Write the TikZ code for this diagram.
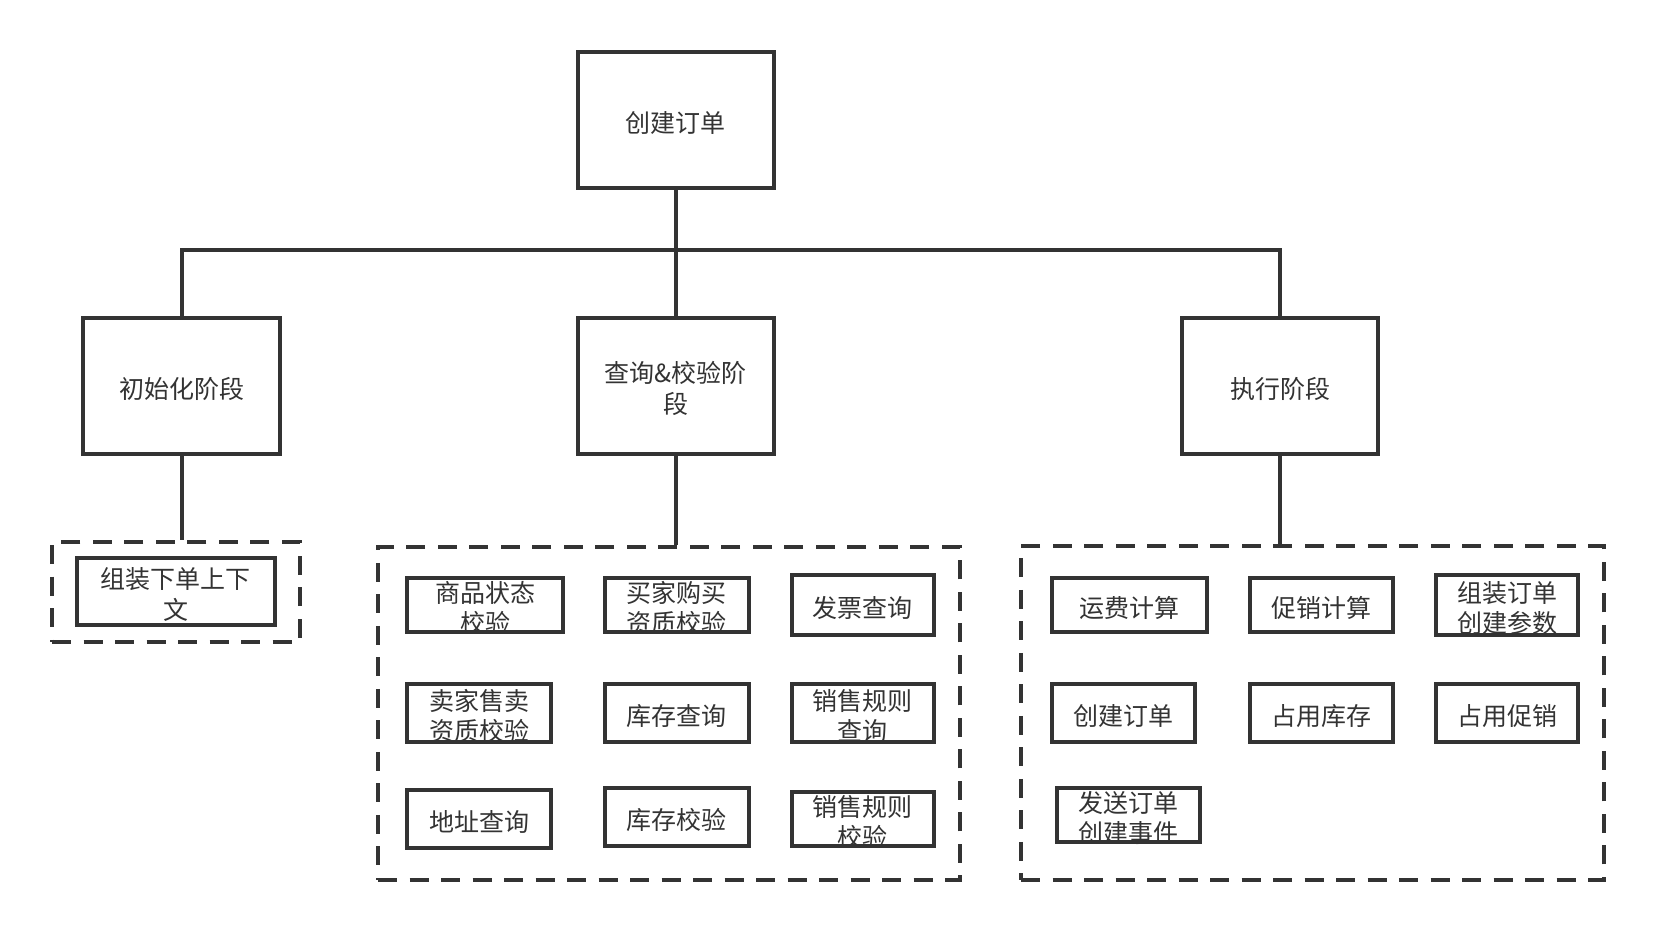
\documentclass[tikz,border=0pt]{standalone}
\usepackage{fontspec}
\newfontfamily\cjk{Noto Sans CJK SC}
\definecolor{linegray}{HTML}{333333}

\begin{document}
\begin{tikzpicture}[x=1pt,y=-1pt,
    box/.style={draw=linegray, line width=4pt, inner sep=0pt},
    bigbox/.style={box, minimum width=196.5pt, minimum height=136pt},
    grp/.style={draw=linegray, line width=4pt, dash pattern=on 19pt off 12.5pt, inner sep=0pt},
    lbl/.style={text=linegray, font=\cjk\fontsize{25}{30.5}\selectfont, align=center, inner sep=0pt, yshift=-3pt}]
            % Fix the page size
            \useasboundingbox (0,0) rectangle (1656,932);

            % Define points
            \coordinate (bar) at (675.9,250);

            % Draw root and stages
            \node[bigbox] (root) at (675.9,119.9) {};
            \node[lbl] (root-t) at (root) {创建订单};
            \node[bigbox] (init) at (181.6,385.5) {};
            \node[lbl] (init-t) at (init) {初始化阶段};
            \node[bigbox] (query) at (675.9,385.5) {};
            \node[lbl] (query-t) at (query) {查询\&校验阶\\段};
            \node[bigbox] (exec) at (1280,385.5) {};
            \node[lbl] (exec-t) at (exec) {执行阶段};

            % Draw dashed groups
            \node[grp, minimum width=247.7pt, minimum height=100pt] (initgrp) at (175.9,592) {};
            \node[grp, minimum width=581.7pt, minimum height=332.7pt] (querygrp) at (668.9,713.4) {};
            \node[grp, minimum width=583pt, minimum height=333.7pt] (execgrp) at (1312.5,712.9) {};

            % Draw tree lines
            \draw[linegray, line width=4pt] (root.south) -- (bar) -- (query.north);
            \draw[linegray, line width=4pt] (init.north) |- (bar) -| (exec.north);
            \draw[linegray, line width=4pt] (init.south) -- (init.south |- initgrp.north);
            \draw[linegray, line width=4pt] (query.south) -- (query.south |- querygrp.north);
            \draw[linegray, line width=4pt] (exec.south) -- (exec.south |- execgrp.north);

            % Initialisation step
            \node[box, minimum width=197.7pt, minimum height=67pt] (ctx) at (175.9,591.5) {};
            \node[lbl] (ctx-t) at (ctx) {组装下单上下\\文};

            % Query and check steps
            \node[box, minimum width=155.5pt, minimum height=54.6pt] (itemchk) at (485,605) {};
            \node[lbl] (itemchk-t) at (itemchk) {商品状态\\校验};
            \node[box, minimum width=143.4pt, minimum height=54.6pt] (buyerchk) at (676.8,605) {};
            \node[lbl] (buyerchk-t) at (buyerchk) {买家购买\\资质校验};
            \node[box, minimum width=142.5pt, minimum height=59.4pt] (invoice) at (862.8,605) {};
            \node[lbl] (invoice-t) at (invoice) {发票查询};
            \node[box, minimum width=143.3pt, minimum height=58.6pt] (sellerchk) at (479,713) {};
            \node[lbl] (sellerchk-t) at (sellerchk) {卖家售卖\\资质校验};
            \node[box, minimum width=143.4pt, minimum height=58.6pt] (stockq) at (676.8,713) {};
            \node[lbl] (stockq-t) at (stockq) {库存查询};
            \node[box, minimum width=142.5pt, minimum height=58.6pt] (ruleq) at (862.8,713) {};
            \node[lbl] (ruleq-t) at (ruleq) {销售规则\\查询};
            \node[box, minimum width=143.3pt, minimum height=58.3pt] (addrq) at (479,818.9) {};
            \node[lbl] (addrq-t) at (addrq) {地址查询};
            \node[box, minimum width=143.4pt, minimum height=58.6pt] (stockchk) at (676.8,817) {};
            \node[lbl] (stockchk-t) at (stockchk) {库存校验};
            \node[box, minimum width=142.5pt, minimum height=54.3pt] (rulechk) at (862.8,819) {};
            \node[lbl] (rulechk-t) at (rulechk) {销售规则\\校验};

            % Execution steps
            \node[box, minimum width=155.2pt, minimum height=54.6pt] (freight) at (1129.2,605) {};
            \node[lbl] (freight-t) at (freight) {运费计算};
            \node[box, minimum width=143pt, minimum height=54.6pt] (promo) at (1321,605) {};
            \node[lbl] (promo-t) at (promo) {促销计算};
            \node[box, minimum width=142.5pt, minimum height=59.4pt] (params) at (1507,605) {};
            \node[lbl] (params-t) at (params) {组装订单\\创建参数};
            \node[box, minimum width=143pt, minimum height=58.6pt] (order) at (1123,713) {};
            \node[lbl] (order-t) at (order) {创建订单};
            \node[box, minimum width=143pt, minimum height=58.6pt] (lockstock) at (1321,713) {};
            \node[lbl] (lockstock-t) at (lockstock) {占用库存};
            \node[box, minimum width=142.5pt, minimum height=58.6pt] (lockpromo) at (1507,713) {};
            \node[lbl] (lockpromo-t) at (lockpromo) {占用促销};
            \node[box, minimum width=143pt, minimum height=54.3pt] (event) at (1128.8,814.9) {};
            \node[lbl] (event-t) at (event) {发送订单\\创建事件};
\end{tikzpicture}
\end{document}
